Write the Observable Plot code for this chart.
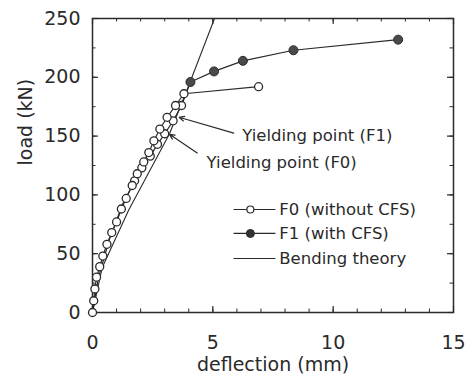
<!DOCTYPE html>
<html>
<head>
<meta charset="utf-8">
<script src="https://cdn.jsdelivr.net/npm/d3@7"></script>
<script src="https://cdn.jsdelivr.net/npm/@observablehq/plot@0.6"></script>
<style>
  html, body { margin: 0; padding: 0; background: #fff; }
  #chart { width: 467px; height: 378px; }
</style>
</head>
<body>
<div id="chart"></div>
<script>
// ---- data ----
const f0Deflection = [0, 0.05, 0.1, 0.17, 0.3, 0.43, 0.6, 0.8, 1.0, 1.2, 1.4, 1.65, 1.86, 2.13, 2.34, 2.55, 2.8, 3.1, 3.45, 3.8, 6.9];
const f0Load       = [0, 10, 20, 30, 39, 48, 58, 68, 77, 88, 97, 108, 118, 128, 136, 146, 156, 166, 176, 186, 192];

const f1Deflection = [0, 0.25, 0.7, 1.25, 1.75, 2.05, 2.4, 2.7, 3.0, 3.35, 3.7, 4.07, 5.05, 6.25, 8.35, 12.7];
const f1Load       = [0, 30, 62, 92, 112, 123, 133, 143, 152, 163, 176, 196, 205, 214, 223, 232];

const theoryDeflection = [0, 0.4, 1.5, 3.2, 4.0, 5.07];
const theoryLoad       = [0, 38, 87, 152, 193, 250];

const xTickValues = [0, 5, 10, 15];
const yTickValues = [0, 50, 100, 150, 200, 250];
const xMinorTicks = d3.range(0, 16, 1);
const yMinorTicks = d3.range(0, 251, 25);

const xLabel = "deflection (mm)";
const yLabel = "load (kN)";
const seriesNames = ["F0 (without CFS)", "F1 (with CFS)", "Bending theory"];
const annotationTexts = ["Yielding point (F1)", "Yielding point (F0)"];

// ---- layout ----
const W = 467, H = 378;
const mL = 92, mR = 14, mT = 18, mB = 66;
const innerW = W - mL - mR, innerH = H - mT - mB;
const ink = "#2a2a2a";

const f0 = f0Deflection.map((d, i) => ({x: d, y: f0Load[i]}));
const f1 = f1Deflection.map((d, i) => ({x: d, y: f1Load[i]}));
const theory = theoryDeflection.map((d, i) => ({x: d, y: theoryLoad[i]}));

// annotation placement (data coordinates)
const annotations = [
  {text: annotationTexts[0], tx: 6.22, ty: 150.5, x1: 5.87, y1: 152.5, x2: 3.6, y2: 166},
  {text: annotationTexts[1], tx: 4.74, ty: 127,   x1: 4.35, y1: 135.6, x2: 3.2, y2: 151.5}
];

// legend placement (data coordinates)
const legendRows = [
  {name: seriesNames[0], y: 87.6, kind: "open"},
  {name: seriesNames[1], y: 67.2, kind: "filled"},
  {name: seriesNames[2], y: 45.9, kind: "line"}
];
const legX1 = 5.86, legX2 = 7.6, legDot = 6.56, legText = 7.76;

const chart = Plot.plot({
  width: W, height: H,
  marginLeft: mL, marginRight: mR, marginTop: mT, marginBottom: mB,
  x: {domain: [0, 15], label: null},
  y: {domain: [0, 250], label: null},
  style: {fontFamily: "DejaVu Sans", fontSize: "19px", color: ink, background: "#fff"},
  marks: [
    // inward ticks on all four sides
    Plot.tickX(xMinorTicks, {x: d => d, insetTop: innerH - 3.5, stroke: ink, strokeWidth: 1}),
    Plot.tickX(xTickValues, {x: d => d, insetTop: innerH - 6, stroke: ink, strokeWidth: 1.2}),
    Plot.tickX(xMinorTicks, {x: d => d, insetBottom: innerH - 3.5, stroke: ink, strokeWidth: 1}),
    Plot.tickX(xTickValues, {x: d => d, insetBottom: innerH - 6, stroke: ink, strokeWidth: 1.2}),
    Plot.tickY(yMinorTicks, {y: d => d, insetRight: innerW - 3.5, stroke: ink, strokeWidth: 1}),
    Plot.tickY(yTickValues, {y: d => d, insetRight: innerW - 6, stroke: ink, strokeWidth: 1.2}),
    Plot.tickY(yMinorTicks, {y: d => d, insetLeft: innerW - 3.5, stroke: ink, strokeWidth: 1}),
    Plot.tickY(yTickValues, {y: d => d, insetLeft: innerW - 6, stroke: ink, strokeWidth: 1.2}),
    Plot.frame({stroke: ink, strokeWidth: 1.5}),
    Plot.axisX(xTickValues, {tickSize: 0, tickPadding: 23, fontSize: 19, fill: ink}),
    Plot.axisY(yTickValues, {tickSize: 0, tickPadding: 12, fontSize: 19, fill: ink}),
    Plot.text([xLabel], {frameAnchor: "bottom", dy: 58, text: d => d, fontSize: 19, fill: ink}),
    Plot.text([yLabel], {frameAnchor: "left", dx: -67, rotate: -90, text: d => d, fontSize: 19, fill: ink}),

    // bending theory
    Plot.line(theory, {x: "x", y: "y", stroke: ink, strokeWidth: 1.1}),
    // F1 (with CFS)
    Plot.line(f1, {x: "x", y: "y", stroke: ink, strokeWidth: 1.2}),
    // F0 (without CFS)
    Plot.line(f0, {x: "x", y: "y", stroke: ink, strokeWidth: 1.2}),
    Plot.dot(f1.filter(d => d.y >= 110 && d.y < 190), {x: "x", y: "y", r: 4, fill: "#fff", stroke: ink, strokeWidth: 1.3}),
    Plot.dot(f0, {x: "x", y: "y", r: 4, fill: "#fff", stroke: ink, strokeWidth: 1.3}),
    Plot.dot(f1.filter(d => d.y >= 190), {x: "x", y: "y", r: 4.5, fill: "#4a4a4a", stroke: ink, strokeWidth: 1}),

    // yielding point annotations
    Plot.arrow(annotations, {x1: "x1", y1: "y1", x2: "x2", y2: "y2", stroke: ink, strokeWidth: 1.2, headLength: 7, headAngle: 50}),
    Plot.text(annotations, {x: "tx", y: "ty", text: "text", textAnchor: "start", lineAnchor: "middle", fontSize: 16.5, fill: ink}),

    // legend
    Plot.link(legendRows, {x1: legX1, x2: legX2, y1: "y", y2: "y", stroke: ink, strokeWidth: d => d.kind === "line" ? 1.1 : 1.2}),
    Plot.dot(legendRows.filter(d => d.kind === "open"), {x: legDot, y: "y", r: 3.5, fill: "#fff", stroke: ink, strokeWidth: 1.2}),
    Plot.dot(legendRows.filter(d => d.kind === "filled"), {x: legDot, y: "y", r: 4, fill: "#333", stroke: ink, strokeWidth: 1}),
    Plot.text(legendRows, {x: legText, y: "y", text: "name", textAnchor: "start", lineAnchor: "middle", fontSize: 16.5, fill: ink})
  ]
});
document.getElementById("chart").appendChild(chart);
</script>
</body>
</html>
